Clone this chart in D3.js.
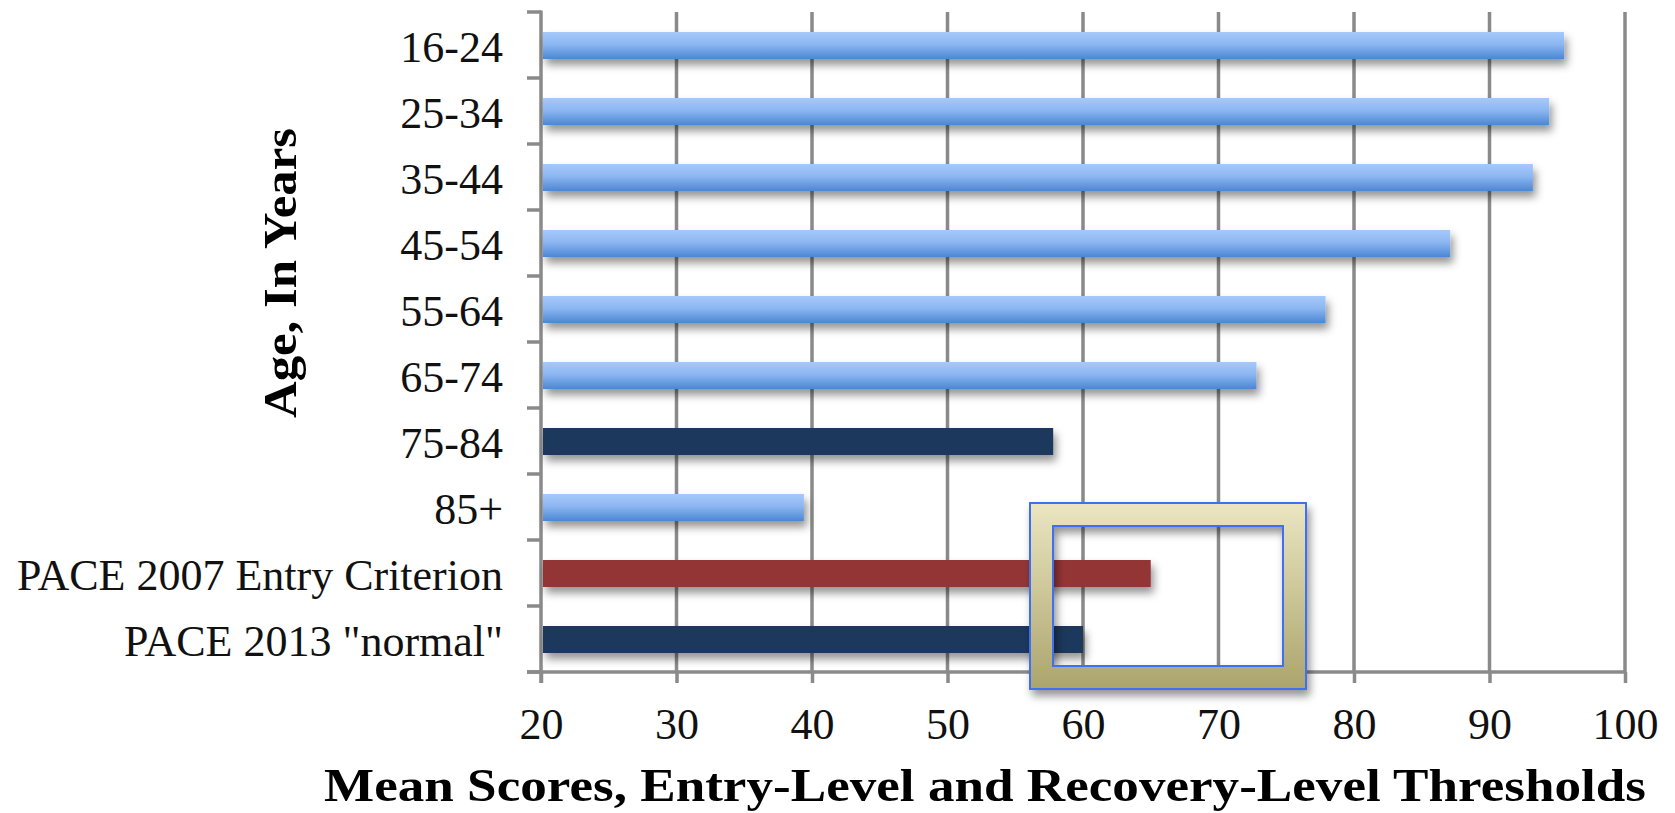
<!DOCTYPE html>
<html>
<head>
<meta charset="utf-8">
<script src="https://cdn.jsdelivr.net/npm/d3@7"></script>
<style>
  body { margin: 0; background: #fff; }
  svg { display: block; }
</style>
</head>
<body>
<svg id="chart"></svg>
<script>
// data
const categories = ['16-24', '25-34', '35-44', '45-54', '55-64', '65-74', '75-84', '85+',
  'PACE 2007 Entry Criterion', 'PACE 2013 "normal"'];
const meanScores = [95.5, 94.4, 93.2, 87.1, 77.9, 72.8, 57.8, 39.4, 65.0, 60.0];
const barKinds = ['light', 'light', 'light', 'light', 'light', 'light', 'navy', 'light', 'red', 'navy'];
const xTicks = [20, 30, 40, 50, 60, 70, 80, 90, 100];

const xTitle = 'Mean Scores, Entry-Level and Recovery-Level Thresholds';
const yTitle = 'Age, In Years';

// set up constants
const width = 1675;
const height = 813;
const margin = { top: 12, right: 50, bottom: 141, left: 541 };
const barHeight = 27;
const gridColor = '#8a8a8a';

const data = categories.map((c, i) => ({ cat: c, value: meanScores[i], kind: barKinds[i] }));

const svg = d3.select('#chart')
  .attr('width', width)
  .attr('height', height);

const defs = svg.append('defs');

const lightGrad = defs.append('linearGradient')
  .attr('id', 'lightBlue')
  .attr('x1', 0).attr('y1', 0).attr('x2', 0).attr('y2', 1);
lightGrad.append('stop').attr('offset', '0%').attr('stop-color', '#a6c9fb');
lightGrad.append('stop').attr('offset', '45%').attr('stop-color', '#8db7f2');
lightGrad.append('stop').attr('offset', '100%').attr('stop-color', '#4b87d3');

const frameGrad = defs.append('linearGradient')
  .attr('id', 'frameFill')
  .attr('x1', 0).attr('y1', 0).attr('x2', 0).attr('y2', 1);
frameGrad.append('stop').attr('offset', '0%').attr('stop-color', '#ebe6c1');
frameGrad.append('stop').attr('offset', '100%').attr('stop-color', '#aba46d');

const shadow = defs.append('filter')
  .attr('id', 'shadow')
  .attr('x', '-5%').attr('y', '-50%').attr('width', '110%').attr('height', '250%');
shadow.append('feDropShadow')
  .attr('dx', 3).attr('dy', 6).attr('stdDeviation', 4)
  .attr('flood-color', '#000').attr('flood-opacity', 0.42);

// scales
const xScale = d3.scaleLinear()
  .domain([20, 100])
  .range([margin.left, width - margin.right]);

const yScale = d3.scaleBand()
  .domain(categories)
  .range([margin.top, height - margin.bottom]);

const plotBottom = height - margin.bottom;

// vertical gridlines
svg.append('g')
  .selectAll('line')
  .data(xTicks.slice(1))
  .enter()
  .append('line')
  .attr('x1', d => xScale(d))
  .attr('x2', d => xScale(d))
  .attr('y1', margin.top)
  .attr('y2', plotBottom)
  .attr('stroke', gridColor)
  .attr('stroke-width', 3.5);

// x axis
const xAxis = d3.axisBottom(xScale)
  .tickValues(xTicks)
  .tickSize(11)
  .tickPadding(25)
  .tickSizeOuter(0);

const gx = svg.append('g')
  .attr('transform', `translate(0, ${plotBottom})`)
  .call(xAxis);
gx.select('.domain').remove();
gx.selectAll('.tick line').attr('stroke', gridColor).attr('stroke-width', 3.5);
gx.selectAll('.tick text')
  .attr('fill', '#111')
  .style('font-family', '"Liberation Serif", serif')
  .style('font-size', '44px');

// bottom axis line (extends left over the outer tick)
svg.append('line')
  .attr('x1', margin.left - 14)
  .attr('x2', xScale(100))
  .attr('y1', plotBottom)
  .attr('y2', plotBottom)
  .attr('stroke', gridColor)
  .attr('stroke-width', 3.5);

// y axis: labels centred on bands, ticks at band edges
const yAxis = d3.axisLeft(yScale).tickSize(0).tickPadding(38);
const gy = svg.append('g')
  .attr('transform', `translate(${margin.left}, 0)`)
  .call(yAxis);
gy.select('.domain').remove();
gy.selectAll('.tick text')
  .attr('fill', '#111')
  .attr('dy', '0.38em')
  .style('font-family', '"Liberation Serif", serif')
  .style('font-size', '44px');

const bounds = categories.map(c => yScale(c)).concat([plotBottom]);
svg.append('g')
  .selectAll('line')
  .data(bounds)
  .enter()
  .append('line')
  .attr('x1', margin.left - 14)
  .attr('x2', margin.left)
  .attr('y1', d => d)
  .attr('y2', d => d)
  .attr('stroke', gridColor)
  .attr('stroke-width', 3.5);

svg.append('line')
  .attr('x1', margin.left)
  .attr('x2', margin.left)
  .attr('y1', margin.top - 1.5)
  .attr('y2', plotBottom + 11)
  .attr('stroke', gridColor)
  .attr('stroke-width', 3.5);

// bars
const fillFor = kind => {
  if (kind === 'navy') {
    return '#1b375d';
  } else if (kind === 'red') {
    return '#943635';
  } else {
    return 'url(#lightBlue)';
  }
};

svg.append('g')
  .selectAll('rect')
  .data(data)
  .enter()
  .append('rect')
  .attr('x', xScale(20) + 2)
  .attr('y', d => yScale(d.cat) + (yScale.bandwidth() - barHeight) / 2 + 0.5)
  .attr('width', d => xScale(d.value) - xScale(20) - 2)
  .attr('height', barHeight)
  .attr('fill', d => fillFor(d.kind))
  .attr('filter', 'url(#shadow)');

// highlight frame around the 2007/2013 threshold bars
const outer = { x0: 1030, y0: 503, x1: 1306, y1: 689 };
const inner = { x0: 1053, y0: 526, x1: 1283, y1: 666 };
const framePath = `M${outer.x0},${outer.y0}H${outer.x1}V${outer.y1}H${outer.x0}Z` +
  `M${inner.x0},${inner.y0}H${inner.x1}V${inner.y1}H${inner.x0}Z`;

svg.append('path')
  .attr('d', framePath)
  .attr('fill', 'url(#frameFill)')
  .attr('fill-rule', 'evenodd')
  .attr('stroke', '#3f6ff2')
  .attr('stroke-width', 2)
  .attr('filter', 'url(#shadow)');

// axis titles
svg.append('text')
  .attr('x', 985)
  .attr('y', 801)
  .attr('text-anchor', 'middle')
  .attr('fill', '#000')
  .style('font-family', '"Liberation Serif", serif')
  .style('font-weight', 'bold')
  .style('font-size', '47px')
  .attr('textLength', 1322)
  .attr('lengthAdjust', 'spacingAndGlyphs')
  .text(xTitle);

svg.append('text')
  .attr('transform', 'rotate(-90)')
  .attr('x', -273)
  .attr('y', 296)
  .attr('text-anchor', 'middle')
  .attr('fill', '#000')
  .style('font-family', '"Liberation Serif", serif')
  .style('font-weight', 'bold')
  .style('font-size', '47px')
  .attr('textLength', 290)
  .attr('lengthAdjust', 'spacingAndGlyphs')
  .text(yTitle);
</script>
</body>
</html>
